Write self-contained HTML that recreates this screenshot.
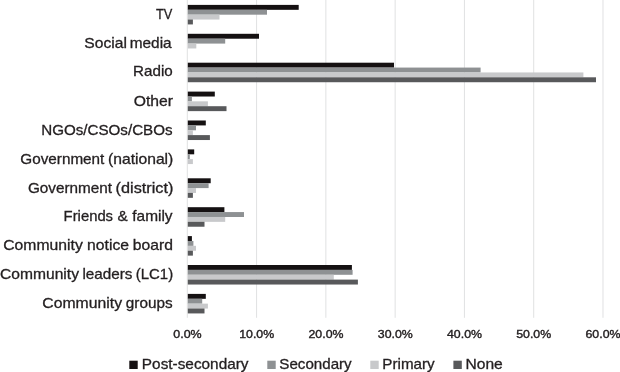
<!DOCTYPE html>
<html><head><meta charset="utf-8"><title>chart</title>
<style>
html,body{margin:0;padding:0;background:#fff;}
body{width:620px;height:372px;overflow:hidden;}
svg{display:block;}
text{font-family:"Liberation Sans",sans-serif;fill:#231f20;stroke:#231f20;stroke-width:0.3px;}
.cat{font-size:14.3px;}
.ax{font-size:11.8px;stroke-width:0.4px;}
.lg{font-size:14.3px;}
</style></head><body>
<svg width="620" height="372" viewBox="0 0 620 372">
<rect width="620" height="372" fill="#fff"/>
<rect x="186.80" y="0" width="1" height="317.8" fill="#e0e1e2"/>
<rect x="256.08" y="0" width="1" height="317.8" fill="#e0e1e2"/>
<rect x="325.36" y="0" width="1" height="317.8" fill="#e0e1e2"/>
<rect x="394.64" y="0" width="1" height="317.8" fill="#e0e1e2"/>
<rect x="463.92" y="0" width="1" height="317.8" fill="#e0e1e2"/>
<rect x="533.20" y="0" width="1" height="317.8" fill="#e0e1e2"/>
<rect x="602.48" y="0" width="1" height="317.8" fill="#e0e1e2"/>
<rect x="187.8" y="4.90" width="110.9" height="4.92" fill="#151112"/>
<rect x="187.8" y="9.77" width="79.2" height="4.92" fill="#8e9193"/>
<rect x="187.8" y="14.64" width="31.7" height="4.92" fill="#c8c9cb"/>
<rect x="187.8" y="19.51" width="5.1" height="4.92" fill="#58595b"/>
<text class="cat" y="18.6"><tspan x="155.94" textLength="16.41" lengthAdjust="spacingAndGlyphs">TV</tspan></text>
<rect x="187.8" y="33.80" width="71.2" height="4.92" fill="#151112"/>
<rect x="187.8" y="38.67" width="37.4" height="4.92" fill="#8e9193"/>
<rect x="187.8" y="43.54" width="8.5" height="4.92" fill="#c8c9cb"/>
<text class="cat" y="47.5"><tspan x="84.38" textLength="42.51" lengthAdjust="spacingAndGlyphs">Social</tspan> <tspan x="129.72" textLength="41.98" lengthAdjust="spacingAndGlyphs">media</tspan></text>
<rect x="187.8" y="62.70" width="206.2" height="4.92" fill="#151112"/>
<rect x="187.8" y="67.57" width="292.8" height="4.92" fill="#8e9193"/>
<rect x="187.8" y="72.44" width="395.6" height="4.92" fill="#c8c9cb"/>
<rect x="187.8" y="77.31" width="408.2" height="4.92" fill="#58595b"/>
<text class="cat" y="76.2"><tspan x="133.09" textLength="39.64" lengthAdjust="spacingAndGlyphs">Radio</tspan></text>
<rect x="187.8" y="91.60" width="27.0" height="4.92" fill="#151112"/>
<rect x="187.8" y="96.47" width="4.1" height="4.92" fill="#8e9193"/>
<rect x="187.8" y="101.34" width="20.1" height="4.92" fill="#c8c9cb"/>
<rect x="187.8" y="106.21" width="38.7" height="4.92" fill="#58595b"/>
<text class="cat" y="106.0"><tspan x="133.68" textLength="39.25" lengthAdjust="spacingAndGlyphs">Other</tspan></text>
<rect x="187.8" y="120.50" width="18.0" height="4.92" fill="#151112"/>
<rect x="187.8" y="125.37" width="8.2" height="4.92" fill="#8e9193"/>
<rect x="187.8" y="130.24" width="5.1" height="4.92" fill="#c8c9cb"/>
<rect x="187.8" y="135.11" width="22.1" height="4.92" fill="#58595b"/>
<text class="cat" y="134.9"><tspan x="41.19" textLength="131.38" lengthAdjust="spacingAndGlyphs">NGOs/CSOs/CBOs</tspan></text>
<rect x="187.8" y="149.40" width="6.4" height="4.92" fill="#151112"/>
<rect x="187.8" y="154.27" width="2.0" height="4.92" fill="#8e9193"/>
<rect x="187.8" y="159.14" width="5.1" height="4.92" fill="#c8c9cb"/>
<text class="cat" y="163.8"><tspan x="20.25" textLength="84.12" lengthAdjust="spacingAndGlyphs">Government</tspan> <tspan x="107.97" textLength="65.36" lengthAdjust="spacingAndGlyphs">(national)</tspan></text>
<rect x="187.8" y="178.30" width="22.9" height="4.92" fill="#151112"/>
<rect x="187.8" y="183.17" width="20.8" height="4.92" fill="#8e9193"/>
<rect x="187.8" y="188.04" width="8.2" height="4.92" fill="#c8c9cb"/>
<rect x="187.8" y="192.91" width="5.1" height="4.92" fill="#58595b"/>
<text class="cat" y="192.7"><tspan x="27.95" textLength="84.12" lengthAdjust="spacingAndGlyphs">Government</tspan> <tspan x="115.63" textLength="57.77" lengthAdjust="spacingAndGlyphs">(district)</tspan></text>
<rect x="187.8" y="207.20" width="36.6" height="4.92" fill="#151112"/>
<rect x="187.8" y="212.07" width="56.2" height="4.92" fill="#8e9193"/>
<rect x="187.8" y="216.94" width="37.4" height="4.92" fill="#c8c9cb"/>
<rect x="187.8" y="221.81" width="16.7" height="4.92" fill="#58595b"/>
<text class="cat" y="221.3"><tspan x="63.60" textLength="49.46" lengthAdjust="spacingAndGlyphs">Friends</tspan> <tspan x="117.61" textLength="10.26" lengthAdjust="spacingAndGlyphs">&amp;</tspan> <tspan x="132.34" textLength="40.25" lengthAdjust="spacingAndGlyphs">family</tspan></text>
<rect x="187.8" y="236.10" width="4.1" height="4.92" fill="#151112"/>
<rect x="187.8" y="240.97" width="5.6" height="4.92" fill="#8e9193"/>
<rect x="187.8" y="245.84" width="8.2" height="4.92" fill="#c8c9cb"/>
<rect x="187.8" y="250.71" width="5.1" height="4.92" fill="#58595b"/>
<text class="cat" y="250.1"><tspan x="3.25" textLength="79.49" lengthAdjust="spacingAndGlyphs">Community</tspan> <tspan x="87.10" textLength="41.94" lengthAdjust="spacingAndGlyphs">notice</tspan> <tspan x="132.74" textLength="40.15" lengthAdjust="spacingAndGlyphs">board</tspan></text>
<rect x="187.8" y="265.00" width="164.1" height="4.92" fill="#151112"/>
<rect x="187.8" y="269.87" width="164.8" height="4.92" fill="#8e9193"/>
<rect x="187.8" y="274.74" width="146.0" height="4.92" fill="#c8c9cb"/>
<rect x="187.8" y="279.61" width="170.1" height="4.92" fill="#58595b"/>
<text class="cat" y="278.9"><tspan x="0.06" textLength="78.94" lengthAdjust="spacingAndGlyphs">Community</tspan> <tspan x="82.43" textLength="50.07" lengthAdjust="spacingAndGlyphs">leaders</tspan> <tspan x="135.75" textLength="37.36" lengthAdjust="spacingAndGlyphs">(LC1)</tspan></text>
<rect x="187.8" y="293.90" width="18.0" height="4.92" fill="#151112"/>
<rect x="187.8" y="298.77" width="14.4" height="4.92" fill="#8e9193"/>
<rect x="187.8" y="303.64" width="20.1" height="4.92" fill="#c8c9cb"/>
<rect x="187.8" y="308.51" width="16.7" height="4.92" fill="#58595b"/>
<text class="cat" y="307.8"><tspan x="42.34" textLength="79.73" lengthAdjust="spacingAndGlyphs">Community</tspan> <tspan x="125.84" textLength="46.85" lengthAdjust="spacingAndGlyphs">groups</tspan></text>
<text class="ax" x="173.3" y="338.2" textLength="28.4" lengthAdjust="spacingAndGlyphs">0.0%</text>
<text class="ax" x="239.2" y="338.2" textLength="35.0" lengthAdjust="spacingAndGlyphs">10.0%</text>
<text class="ax" x="308.5" y="338.2" textLength="35.0" lengthAdjust="spacingAndGlyphs">20.0%</text>
<text class="ax" x="377.8" y="338.2" textLength="35.0" lengthAdjust="spacingAndGlyphs">30.0%</text>
<text class="ax" x="447.0" y="338.2" textLength="35.0" lengthAdjust="spacingAndGlyphs">40.0%</text>
<text class="ax" x="516.2" y="338.2" textLength="35.0" lengthAdjust="spacingAndGlyphs">50.0%</text>
<text class="ax" x="585.5" y="338.2" textLength="35.0" lengthAdjust="spacingAndGlyphs">60.0%</text>
<rect x="129.3" y="360.7" width="8.4" height="8.3" fill="#151112"/>
<text class="lg" x="141.88" y="368.7" textLength="106.65" lengthAdjust="spacingAndGlyphs">Post-secondary</text>
<rect x="267.3" y="360.7" width="8.4" height="8.3" fill="#8e9193"/>
<text class="lg" x="279.31" y="368.7" textLength="72.41" lengthAdjust="spacingAndGlyphs">Secondary</text>
<rect x="370.3" y="360.7" width="8.4" height="8.3" fill="#c8c9cb"/>
<text class="lg" x="382.39" y="368.7" textLength="52.35" lengthAdjust="spacingAndGlyphs">Primary</text>
<rect x="453.4" y="360.7" width="8.4" height="8.3" fill="#58595b"/>
<text class="lg" x="465.47" y="368.7" textLength="37.32" lengthAdjust="spacingAndGlyphs">None</text>
</svg></body></html>
